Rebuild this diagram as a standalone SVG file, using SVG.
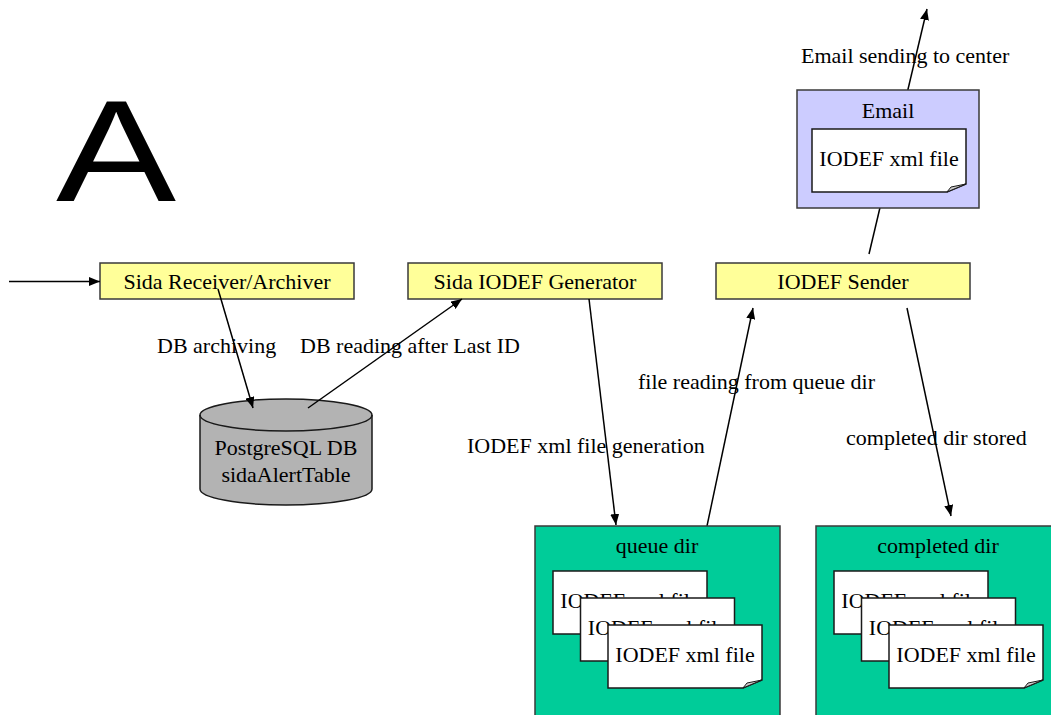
<svg xmlns="http://www.w3.org/2000/svg" width="1051" height="715" viewBox="0 0 1051 715">
  <style>
    text { font-family: "Liberation Serif", "Times New Roman", serif; font-size: 22px; fill: #000; }
    .mid { text-anchor: middle; }
    .proc { fill: #ffff99; stroke: #3a3a3a; stroke-width: 1.5; }
    .mail { fill: #ccccff; stroke: #3a3a3a; stroke-width: 1.5; }
    .dir { fill: #00cc99; stroke: #3a3a3a; stroke-width: 1.5; }
    .doc { fill: #ffffff; stroke: #1a1a1a; stroke-width: 1.5; }
    .fold { fill: #cccccc; stroke: #1a1a1a; stroke-width: 1; }
    .db { fill: #b3b3b3; stroke: #1a1a1a; stroke-width: 1.5; }
    .conn line { stroke: #000; stroke-width: 1.5; }
    .big { font-family: "Liberation Sans", Arial, sans-serif; font-size: 144px; }
  </style>
  <defs>
    <marker id="arrow" viewBox="0 0 11 9" refX="11" refY="4.5" markerWidth="11" markerHeight="9" markerUnits="userSpaceOnUse" orient="auto">
      <path d="M0,0 L11,4.5 L0,9 Z" fill="#000"/>
    </marker>
    <!-- document sheet with a curled lower-right corner, 154 x 63 -->
    <g id="sheet">
      <path class="doc" d="M0,0 H154 V55 L135,63 H0 Z"/>
      <path class="fold" d="M135,63 L139,58 L154,55 Z"/>
      <text class="mid" x="77" y="37">IODEF xml file</text>
    </g>
  </defs>

  <rect width="1051" height="715" fill="#ffffff"/>

  <!-- section letter -->
  <text class="big" transform="translate(56,200.7) scale(1.25,1)" x="0" y="0">A</text>

  <!-- processes -->
  <g id="receiver">
    <rect class="proc" x="100" y="263" width="254" height="36"/>
    <text class="mid" x="227" y="289">Sida Receiver/Archiver</text>
  </g>
  <g id="generator">
    <rect class="proc" x="408" y="263" width="254" height="36"/>
    <text class="mid" x="535" y="289">Sida IODEF Generator</text>
  </g>
  <g id="sender">
    <rect class="proc" x="716" y="263" width="254" height="36"/>
    <text class="mid" x="843" y="289">IODEF Sender</text>
  </g>

  <!-- database -->
  <g id="database">
    <path class="db" d="M200,415 A86,16 0 0,1 372,415 V489 A86,16 0 0,1 200,489 Z"/>
    <path fill="none" stroke="#1a1a1a" stroke-width="1.5" d="M200,415 A86,16 0 0,0 372,415"/>
    <text class="mid" x="286" y="455">PostgreSQL DB</text>
    <text class="mid" x="286" y="482">sidaAlertTable</text>
  </g>

  <!-- connector labels -->
  <g id="labels">
    <text x="801" y="63">Email sending to center</text>
    <text x="157" y="353">DB archiving</text>
    <text x="300" y="353">DB reading after Last ID</text>
    <text x="638" y="389">file reading from queue dir</text>
    <text x="467" y="453">IODEF xml file generation</text>
    <text x="846" y="445">completed dir stored</text>
  </g>

  <!-- connectors -->
  <g id="connectors" class="conn">
    <line x1="9" y1="281.5" x2="100" y2="281.5" marker-end="url(#arrow)"/>
    <line x1="218" y1="289" x2="253" y2="408" marker-end="url(#arrow)"/>
    <line x1="308" y1="408" x2="462" y2="299" marker-end="url(#arrow)"/>
    <line x1="589" y1="299" x2="616" y2="525" marker-end="url(#arrow)"/>
    <line x1="707" y1="526" x2="753" y2="308" marker-end="url(#arrow)"/>
    <line x1="907" y1="308" x2="951" y2="516" marker-end="url(#arrow)"/>
    <line x1="869" y1="254" x2="927" y2="9" marker-end="url(#arrow)"/>
  </g>

  <!-- outgoing mail -->
  <g id="email">
    <rect class="mail" x="797" y="90" width="182" height="118"/>
    <text class="mid" x="888" y="118">Email</text>
    <use href="#sheet" x="812" y="129"/>
  </g>

  <!-- spool directories -->
  <g id="queue-dir">
    <rect class="dir" x="535" y="526" width="245" height="200"/>
    <text class="mid" x="657" y="553">queue dir</text>
    <use href="#sheet" x="553" y="571"/>
    <use href="#sheet" x="580.5" y="598"/>
    <use href="#sheet" x="608" y="625"/>
  </g>
  <g id="completed-dir">
    <rect class="dir" x="816" y="526" width="245" height="200"/>
    <text class="mid" x="938" y="553">completed dir</text>
    <use href="#sheet" x="834" y="571"/>
    <use href="#sheet" x="861.5" y="598"/>
    <use href="#sheet" x="889" y="625"/>
  </g>
</svg>
